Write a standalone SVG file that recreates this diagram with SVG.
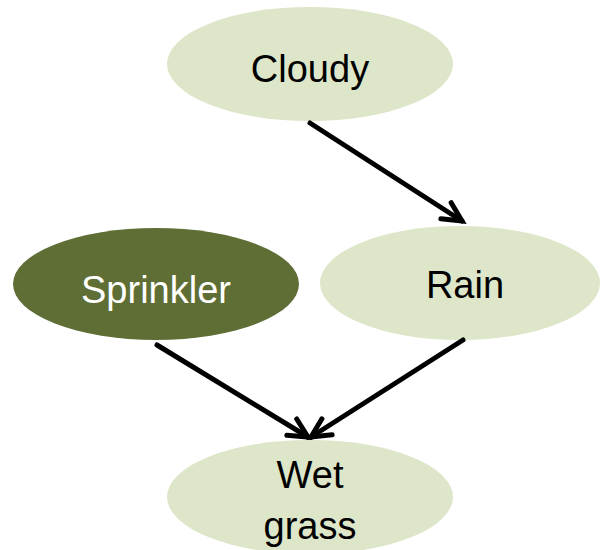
<svg xmlns="http://www.w3.org/2000/svg" width="601" height="550" viewBox="0 0 601 550">
  <style>
    .node-light { fill: #DDE6C8; }
    .node-dark { fill: #5F6E34; }
    .label { font-family: "Liberation Sans", Arial, sans-serif; font-size: 38px; text-anchor: middle; fill: #000; }
    .label-light { fill: #FFFFFF; }
    .edge { stroke: #000; stroke-width: 5; fill: none; stroke-linecap: round; }
  </style>
  <defs>
    <marker id="arrow" markerUnits="userSpaceOnUse" markerWidth="40" markerHeight="40" refX="0" refY="0" viewBox="-25 -20 30 40" orient="auto" overflow="visible">
      <path d="M -19 -9.5 L 0 0 L -19 9.5" fill="none" stroke="#000" stroke-width="5" stroke-linecap="round" stroke-linejoin="miter"/>
    </marker>
  </defs>

  <g id="cloudy">
    <ellipse class="node-light" cx="310" cy="64" rx="143" ry="57"/>
    <text class="label" x="310" y="82">Cloudy</text>
  </g>

  <g id="sprinkler">
    <ellipse class="node-dark" cx="156" cy="284" rx="143" ry="56"/>
    <text class="label label-light" x="156" y="303">Sprinkler</text>
  </g>

  <g id="rain">
    <ellipse class="node-light" cx="460" cy="283" rx="140" ry="57"/>
    <text class="label" x="465" y="298">Rain</text>
  </g>

  <g id="wet-grass">
    <ellipse class="node-light" cx="310" cy="497" rx="143" ry="57"/>
    <text class="label" x="310" y="488">Wet</text>
    <text class="label" x="310" y="539">grass</text>
  </g>

  <g id="connectors">
    <line class="edge" x1="310" y1="123" x2="462" y2="221" marker-end="url(#arrow)"/>
    <line class="edge" x1="157" y1="345" x2="308" y2="437" marker-end="url(#arrow)"/>
    <line class="edge" x1="463" y1="340" x2="311" y2="437" marker-end="url(#arrow)"/>
  </g>
</svg>
